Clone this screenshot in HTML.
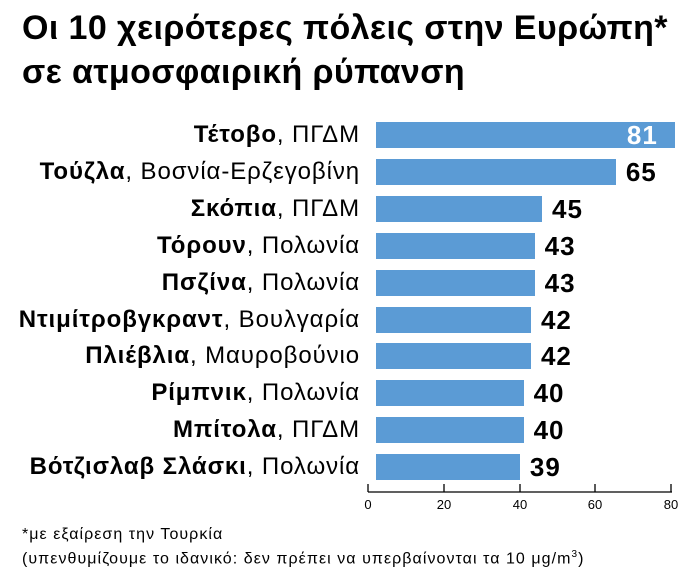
<!DOCTYPE html>
<html><head><meta charset="utf-8"><style>
body{margin:0;width:696px;height:586px;background:#fff;font-family:"Liberation Sans","DejaVu Sans",sans-serif;position:relative;overflow:hidden;color:#000}
.t{position:absolute;left:22px;top:6px;font-size:34px;font-weight:bold;line-height:44px;letter-spacing:0.4px;white-space:nowrap}
.lab{position:absolute;right:336px;width:380px;text-align:right;font-size:24px;line-height:26px;white-space:nowrap;letter-spacing:0.9px}
.bar{position:absolute;left:376px;height:26px;background:#5b9bd5}
.v{position:absolute;font-size:26px;font-weight:bold;line-height:26px;letter-spacing:1px}
.ax{position:absolute;font-size:13px;top:497px;width:30px;text-align:center;margin-left:-15px}
.fn{position:absolute;left:22px;font-size:16px;letter-spacing:1.05px;white-space:nowrap}
</style></head><body>
<div class="t">Οι 10 χειρότερες πόλεις στην Ευρώπη*<br>σε ατμοσφαιρική ρύπανση</div>
<div id="c"></div>
<svg width="696" height="586" style="position:absolute;left:0;top:0">
<line x1="368" y1="492" x2="672" y2="492" stroke="#000" stroke-width="1.3"/>
<g stroke="#000" stroke-width="1.3">
<line x1="368" y1="484" x2="368" y2="492"/><line x1="444" y1="484" x2="444" y2="492"/><line x1="520" y1="484" x2="520" y2="492"/><line x1="595" y1="484" x2="595" y2="492"/><line x1="671" y1="484" x2="671" y2="492"/></g>
</svg>
<div class="ax" style="left:368px">0</div><div class="ax" style="left:444px">20</div><div class="ax" style="left:520px">40</div><div class="ax" style="left:595px">60</div><div class="ax" style="left:671px">80</div>
<div class="fn" style="top:526px">*με εξαίρεση την Τουρκία</div>
<div class="fn" style="top:549px">(υπενθυμίζουμε το ιδανικό: δεν πρέπει να υπερβαίνονται τα 10 μg/m<sup style="font-size:10px">3</sup>)</div>
<script>
var d=[["Τέτοβο","ΠΓΔΜ",81],["Τούζλα","Βοσνία-Ερζεγοβίνη",65],["Σκόπια","ΠΓΔΜ",45],["Τόρουν","Πολωνία",43],["Πσζίνα","Πολωνία",43],["Ντιμίτροβγκραντ","Βουλγαρία",42],["Πλιέβλια","Μαυροβούνιο",42],["Ρίμπνικ","Πολωνία",40],["Μπίτολα","ΠΓΔΜ",40],["Βότζισλαβ Σλάσκι","Πολωνία",39]];
var h="";d.forEach(function(r,i){var y=122+i*36.9,w=r[2]*3.69;
h+='<div class="lab" style="top:'+y+'px"><b>'+r[0]+'</b>, '+r[1]+'</div>';
h+='<div class="bar" style="top:'+y+'px;width:'+w+'px"></div>';
if(i==0)h+='<div class="v" style="top:'+y+'px;left:'+(376+w-48)+'px;color:#fff">'+r[2]+'</div>';
else h+='<div class="v" style="top:'+y+'px;left:'+(376+w+10)+'px">'+r[2]+'</div>';});
document.getElementById("c").innerHTML=h;
</script>
</body></html>
